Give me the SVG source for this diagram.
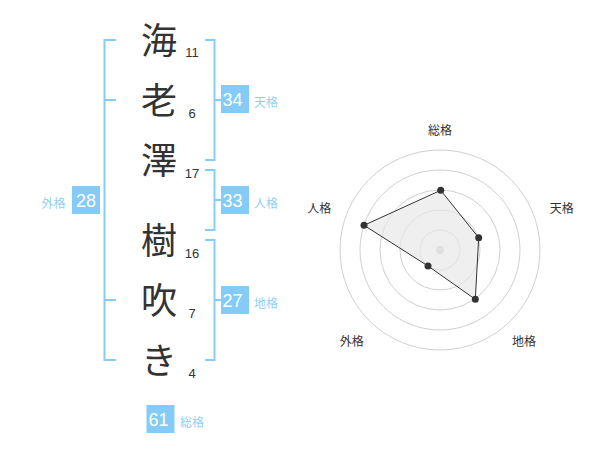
<svg xmlns="http://www.w3.org/2000/svg" width="600" height="470" viewBox="0 0 600 470">
<style>
.ch{font-family:"Noto Sans CJK JP","Noto Sans CJK SC",sans-serif;font-size:36px;fill:#333;text-anchor:middle}
.num{font-family:"Liberation Sans",Arial,sans-serif;font-size:13px;fill:#333;text-anchor:middle}
.br{fill:none;stroke:#86cdf6;stroke-width:2}
.box{fill:#84ccf7}
.bt{font-family:"Liberation Sans",Arial,sans-serif;font-size:18px;fill:#fff;text-anchor:middle}
.lb{font-family:"Noto Sans CJK JP","Noto Sans CJK SC",sans-serif;font-size:12px;fill:#8fd0f5}
.rl{font-family:"Noto Sans CJK JP","Noto Sans CJK SC",sans-serif;font-size:12px;fill:#333;text-anchor:middle}
.ring{fill:none;stroke:#d0d0d0;stroke-width:1}
.pt{fill:#333}
</style>
<g id="chars">
<g id="c1"><text class="ch" x="159" y="53.5">海</text><text class="num" x="192" y="56.5">11</text></g>
<g id="c2"><text class="ch" x="159" y="113.5">老</text><text class="num" x="192" y="117.5">6</text></g>
<g id="c3"><text class="ch" x="159" y="173.5">澤</text><text class="num" x="192" y="177.5">17</text></g>
<g id="c4"><text class="ch" x="159" y="253.5">樹</text><text class="num" x="192" y="257.5">16</text></g>
<g id="c5"><text class="ch" x="159" y="313.5">吹</text><text class="num" x="192" y="317.5">7</text></g>
<g id="c6"><text class="ch" x="159" y="373.5">き</text><text class="num" x="192" y="377.5">4</text></g>
</g>
<g id="connectors">
<path class="br" d="M116,40H104.5V360H116M104.5,100H116M104.5,300H116"/>
<path class="br" d="M205,40H214.5V160H205M214.5,100H221"/>
<path class="br" d="M205,170H214.5V230H205M214.5,200H221"/>
<path class="br" d="M205,240H214.5V360H205M214.5,300H221"/>
</g>
<g id="tenkaku"><rect class="box" x="221" y="85" width="28" height="28"/><text class="bt" x="232.5" y="106">34</text><text class="lb" x="254" y="107">天格</text></g>
<g id="jinkaku"><rect class="box" x="221" y="186" width="28" height="28"/><text class="bt" x="232.5" y="207">33</text><text class="lb" x="254" y="208">人格</text></g>
<g id="chikaku"><rect class="box" x="221" y="286" width="28" height="28"/><text class="bt" x="232.5" y="307">27</text><text class="lb" x="254" y="308">地格</text></g>
<g id="gaikaku"><rect class="box" x="72" y="186" width="28" height="28"/><text class="bt" x="86" y="207">28</text><text class="lb" x="41.5" y="208">外格</text></g>
<g id="soukaku"><rect class="box" x="146.5" y="405" width="28" height="28"/><text class="bt" x="158.5" y="426">61</text><text class="lb" x="180" y="427">総格</text></g>
<g id="radar">
<circle class="ring" cx="440" cy="250" r="20"/>
<circle class="ring" cx="440" cy="250" r="40"/>
<circle class="ring" cx="440" cy="250" r="60"/>
<circle class="ring" cx="440" cy="250" r="80"/>
<circle class="ring" cx="440" cy="250" r="100"/>
<circle cx="440" cy="250" r="4" fill="#ccc"/>
<polygon points="440.7,190.3 478.7,237.7 475.3,299.3 428,266 364,225.3" fill="#e8e8e8" fill-opacity="0.7" stroke="#333" stroke-width="1"/>
<circle class="pt" cx="440.7" cy="190.3" r="3.5"/>
<circle class="pt" cx="478.7" cy="237.7" r="3.5"/>
<circle class="pt" cx="475.3" cy="299.3" r="3.5"/>
<circle class="pt" cx="428" cy="266" r="3.5"/>
<circle class="pt" cx="364" cy="225.3" r="3.5"/>
<text class="rl" x="440" y="134.5">総格</text>
<text class="rl" x="561.7" y="212.8">天格</text>
<text class="rl" x="319.3" y="212.8">人格</text>
<text class="rl" x="351.7" y="346.2">外格</text>
<text class="rl" x="524" y="346.2">地格</text>
</g>
</svg>
